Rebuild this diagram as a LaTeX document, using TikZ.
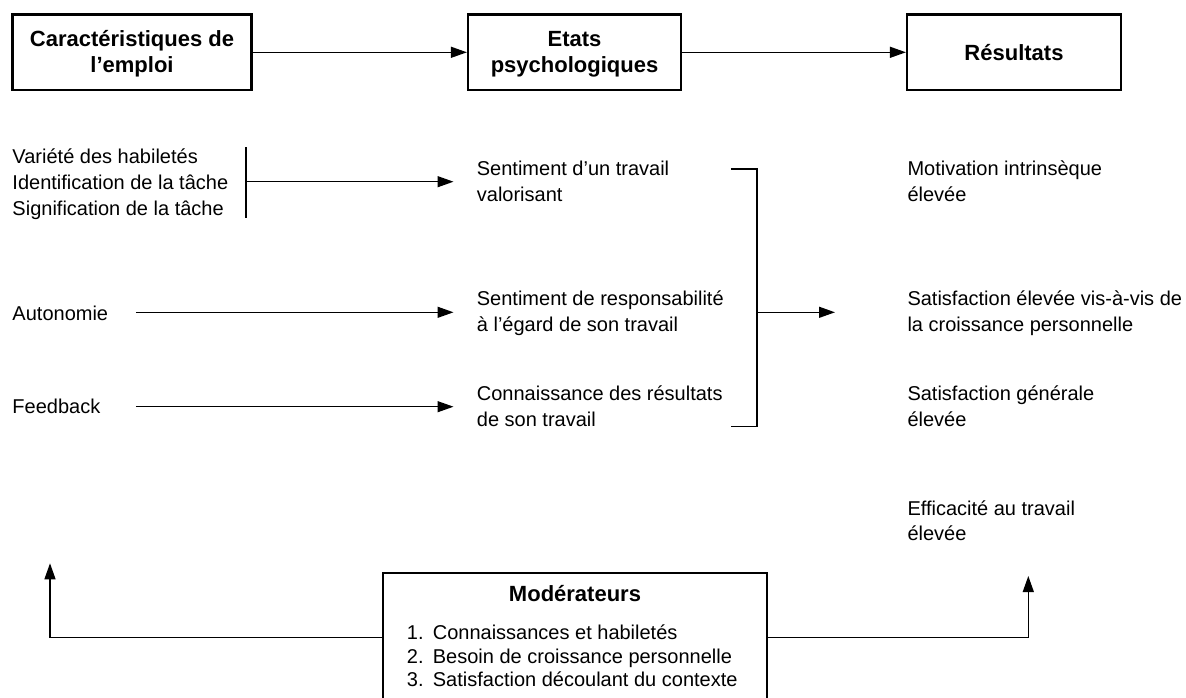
\documentclass[tikz,border=0pt]{standalone}
\usepackage{fontspec}
\setmainfont{Liberation Sans}
\usetikzlibrary{arrows.meta}
\begin{document}
\begin{tikzpicture}[x=1pt,y=-1pt,
  box/.style={draw, line width=2.2pt, inner sep=0pt, font=\fontsize{22}{26}\selectfont\bfseries},
  txt/.style={anchor=base west, inner sep=0pt, font=\fontsize{20}{26}\selectfont},
  conn/.style={line width=1.3pt, -{Triangle[length=16pt,width=11pt]}},
  bar/.style={line width=1.3pt}]
\useasboundingbox (0,0) rectangle (1186,698);
\clip (0,0) rectangle (1186,698);

% top boxes
\node[box, minimum width=239pt, minimum height=75.5pt] (c1) at (132,52.3)
  {\begin{tabular}{@{}c@{}}Caractéristiques de\rule{0pt}{22.6pt}\\l’emploi\end{tabular}};
\node[box, minimum width=213pt, minimum height=75.5pt] (c2) at (574.5,52.3)
  {\begin{tabular}{@{}c@{}}Etats\rule{0pt}{22.6pt}\\psychologiques\end{tabular}};
\node[box, minimum width=214pt, minimum height=75.5pt, text height=15.75pt, text depth=0pt] (c3) at (1014,52.3) {Résultats};
\draw[conn] (c1.east) -- (c2.west);
\draw[conn] (c2.east) -- (c3.west);

% left column
\node[txt, font=\fontsize{20}{26.2}\selectfont] (v) at (12.3,163.3)
  {\begin{tabular}[t]{@{}l@{}}Variété des habiletés\\Identification de la tâche\\Signification de la tâche\end{tabular}};
\node[txt] (aut) at (12.3,320) {Autonomie};
\node[txt] (feed) at (12.3,413.3) {Feedback};

% middle column
\node[txt] (s1) at (476.7,175.7)
  {\begin{tabular}[t]{@{}l@{}}Sentiment d’un travail\\valorisant\end{tabular}};
\node[txt] (s2) at (476.7,305.7)
  {\begin{tabular}[t]{@{}l@{}}Sentiment de responsabilité\\à l’égard de son travail\end{tabular}};
\node[txt] (s3) at (476.7,400)
  {\begin{tabular}[t]{@{}l@{}}Connaissance des résultats\\de son travail\end{tabular}};

% right column
\node[txt] (r1) at (907.3,175.7)
  {\begin{tabular}[t]{@{}l@{}}Motivation intrinsèque\\élevée\end{tabular}};
\node[txt] (r2) at (907.3,305.7)
  {\begin{tabular}[t]{@{}l@{}}Satisfaction élevée vis-à-vis de\\la croissance personnelle\end{tabular}};
\node[txt] (r3) at (907.3,400)
  {\begin{tabular}[t]{@{}l@{}}Satisfaction générale\\élevée\end{tabular}};
\node[txt, font=\fontsize{20}{25}\selectfont] (r4) at (907.3,515)
  {\begin{tabular}[t]{@{}l@{}}Efficacité au travail\\élevée\end{tabular}};

% connectors of the middle row
\coordinate (barT) at (246,147.3);
\coordinate (barB) at (246,218.3);
\coordinate (barM) at (246,181.7);
\draw[bar] (barT) -- (barB);
\draw[conn, shorten >=23.2pt] (barM) -- (barM -| s1.west);
\coordinate (autA) at (135.9,312.3);
\coordinate (feedA) at (135.9,406.7);
\draw[conn, shorten >=23.2pt] (autA) -- (autA -| s2.west);
\draw[conn, shorten >=23.2pt] (feedA) -- (feedA -| s3.west);

% bracket
\coordinate (br1) at (730.8,169);
\coordinate (br2) at (757,169);
\coordinate (br3) at (757,426.7);
\coordinate (br4) at (730.8,426.7);
\coordinate (brM) at (757,312.3);
\draw[bar] (br1) -- (br2) -- (br3) -- (br4);
\draw[conn, shorten >=72.3pt] (brM) -- (brM -| r2.west);

% moderators
\node[draw, line width=2.2pt, minimum width=383.4pt, minimum height=160pt, inner sep=0pt] (mod) at (575,652.7) {};
\node[anchor=base, inner sep=0pt, font=\fontsize{22}{26}\selectfont\bfseries] (modt) at (575,601) {Modérateurs};
\node[txt, font=\fontsize{20}{23.7}\selectfont] (modl) at (406.7,639.3)
  {\begin{tabular}[t]{@{}l@{\hspace{9.3pt}}l@{}}1.&Connaissances et habiletés\\2.&Besoin de croissance personnelle\\3.&Satisfaction découlant du contexte\end{tabular}};
\coordinate (upL) at (50,563.3);
\coordinate (upR) at (1028.3,576);
\coordinate (hy) at (0,637.7);
\draw[conn] (mod.west |- hy) -| (upL);
\draw[conn] (mod.east |- hy) -| (upR);
\end{tikzpicture}
\end{document}
